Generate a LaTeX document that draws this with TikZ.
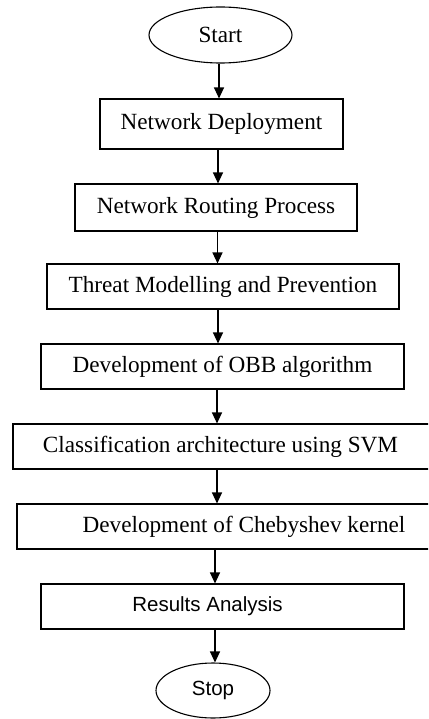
\documentclass[tikz,border=0pt]{standalone}
\usepackage{fontspec}
\setmainfont{Liberation Serif}
\newfontfamily\sansf{Liberation Sans}
\usetikzlibrary{arrows.meta,shapes.geometric}
\begin{document}
\begin{tikzpicture}[x=1pt,y=-1pt,
  serif/.style={font=\fontsize{23.2}{27}\selectfont},
  sans/.style={font=\sansf\fontsize{20.5}{24}\selectfont},
  box/.style={draw,line width=1.1pt,inner sep=0pt,serif},
  term/.style={draw,ellipse,line width=1.1pt,inner sep=0pt},
  arr/.style={line width=1.2pt,-{Triangle[width=10pt,length=11pt]}}]
\useasboundingbox (0,0) rectangle (428,719);
\clip (0,0) rectangle (428,719);
\node[term,serif,minimum width=143pt,minimum height=56pt] (start) at (220.5,35) {Start};
\node[box,minimum width=243pt,minimum height=50pt] (nd) at (221.5,124) {Network Deployment};
\node[box,minimum width=282pt,minimum height=47pt] (nr) at (216,207.5) {Network Routing Process};
\node[box,minimum width=352pt,minimum height=45pt] (tm) at (223,286.5) {Threat Modelling and Prevention};
\node[box,minimum width=363pt,minimum height=45pt] (obb) at (222.5,366.5) {Development of OBB algorithm};
\node[box,minimum width=427pt,minimum height=45pt,
  label={[serif,xshift=-6pt]center:Classification architecture using SVM}] (svm) at (226.5,446.5) {};
\node[box,minimum width=423pt,minimum height=45pt,
  label={[serif,xshift=15.5pt]center:Development of Chebyshev kernel}] (cheb) at (228.5,526.5) {};
\node[box,minimum width=363pt,minimum height=45pt,
  label={[sans,xshift=-15pt]center:Results Analysis}] (res) at (222.5,606.5) {};
\node[term,sans,minimum width=114pt,minimum height=55pt] (stop) at (213,690.5) {Stop};
\draw[arr] (start.south -| 219,0) -- (nd.north -| 219,0);
\draw[arr] (nd.south -| 218,0) -- (nr.north -| 218,0);
\draw[arr] (nr.south -| 217.5,0) -- (tm.north -| 217.5,0);
\draw[arr] (tm.south -| 218,0) -- (obb.north -| 218,0);
\draw[arr] (obb.south -| 217,0) -- (svm.north -| 217,0);
\draw[arr] (svm.south -| 217,0) -- (cheb.north -| 217,0);
\draw[arr] (cheb.south -| 215,0) -- (res.north -| 215,0);
\draw[arr] (res.south -| 215,0) -- (stop.north -| 215,0);
\end{tikzpicture}
\end{document}
